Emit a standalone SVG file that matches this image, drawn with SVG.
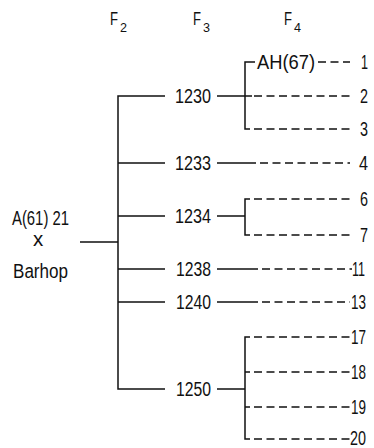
<svg xmlns="http://www.w3.org/2000/svg" width="374" height="448" viewBox="0 0 374 448">
<style>
.t{font-family:"Liberation Sans",Arial,sans-serif;font-size:20.5px;fill:#111}
.h{font-family:"Liberation Sans",Arial,sans-serif;font-size:18px;fill:#111}
.s{font-family:"Liberation Sans",Arial,sans-serif;font-size:13px;fill:#111}
.ln{stroke:#111;stroke-width:1.5;fill:none}
.d{stroke:#111;stroke-width:1.5;fill:none;stroke-dasharray:8 4.5}
</style>
<rect width="374" height="448" fill="#fff"/>
<g id="headers">
<text class="h" x="110" y="25" textLength="8" lengthAdjust="spacingAndGlyphs">F</text><text class="s" x="120" y="32" textLength="7" lengthAdjust="spacingAndGlyphs">2</text>
<text class="h" x="193" y="25" textLength="8" lengthAdjust="spacingAndGlyphs">F</text><text class="s" x="203" y="32" textLength="7" lengthAdjust="spacingAndGlyphs">3</text>
<text class="h" x="284" y="25" textLength="8" lengthAdjust="spacingAndGlyphs">F</text><text class="s" x="294" y="32" textLength="7" lengthAdjust="spacingAndGlyphs">4</text>
</g>
<g id="connectors">
<path class="ln" d="M80 242H118M165 96H118V389H165M118 163H165M118 216H165M118 269H165M118 302H165"/>
<path class="ln" d="M217 96H252M255 62H245V129H250M217 163H256M217 216H245M250 199H245V235H250M217 269H258M217 302H258M217 389H245M250 337H245V439H250M245 372H250M245 407H250"/>
<path class="d" d="M318 62H350M254 96H350M254 129H350M260 163H350M254 199H350M254 235H350M262 269H352M262 302H350M254 337H350M254 372H350M254 407H350M254 439H350"/>
</g>
<g id="n-parent">
<text class="t" x="12" y="225" textLength="57" lengthAdjust="spacingAndGlyphs">A(61) 21</text>
<text class="t" x="38" y="246" text-anchor="middle">x</text>
<text class="t" x="13" y="278" textLength="55" lengthAdjust="spacingAndGlyphs">Barhop</text>
</g>
<g id="n-1230"><text class="t" x="175" y="103" textLength="36" lengthAdjust="spacingAndGlyphs">1230</text></g>
<g id="n-1233"><text class="t" x="175" y="170" textLength="36" lengthAdjust="spacingAndGlyphs">1233</text></g>
<g id="n-1234"><text class="t" x="175" y="223" textLength="36" lengthAdjust="spacingAndGlyphs">1234</text></g>
<g id="n-1238"><text class="t" x="176" y="276" textLength="35" lengthAdjust="spacingAndGlyphs">1238</text></g>
<g id="n-1240"><text class="t" x="176" y="309" textLength="35" lengthAdjust="spacingAndGlyphs">1240</text></g>
<g id="n-1250"><text class="t" x="176" y="396" textLength="35" lengthAdjust="spacingAndGlyphs">1250</text></g>
<g id="n-AH67"><text class="t" x="257" y="69" textLength="58" lengthAdjust="spacingAndGlyphs">AH(67)</text></g>
<g id="n-1"><text class="t" x="361" y="69" textLength="7" lengthAdjust="spacingAndGlyphs">1</text></g>
<g id="n-2"><text class="t" x="360" y="103" textLength="8" lengthAdjust="spacingAndGlyphs">2</text></g>
<g id="n-3"><text class="t" x="360" y="136" textLength="8" lengthAdjust="spacingAndGlyphs">3</text></g>
<g id="n-4"><text class="t" x="359" y="170" textLength="9" lengthAdjust="spacingAndGlyphs">4</text></g>
<g id="n-6"><text class="t" x="360" y="206" textLength="8" lengthAdjust="spacingAndGlyphs">6</text></g>
<g id="n-7"><text class="t" x="360" y="242" textLength="8" lengthAdjust="spacingAndGlyphs">7</text></g>
<g id="n-11"><text class="t" x="352" y="276" textLength="13" lengthAdjust="spacingAndGlyphs">11</text></g>
<g id="n-13"><text class="t" x="351" y="309" textLength="15" lengthAdjust="spacingAndGlyphs">13</text></g>
<g id="n-17"><text class="t" x="351" y="344" textLength="15" lengthAdjust="spacingAndGlyphs">17</text></g>
<g id="n-18"><text class="t" x="351" y="379" textLength="15" lengthAdjust="spacingAndGlyphs">18</text></g>
<g id="n-19"><text class="t" x="351" y="414" textLength="15" lengthAdjust="spacingAndGlyphs">19</text></g>
<g id="n-20"><text class="t" x="350" y="445" textLength="16" lengthAdjust="spacingAndGlyphs">20</text></g>
</svg>
